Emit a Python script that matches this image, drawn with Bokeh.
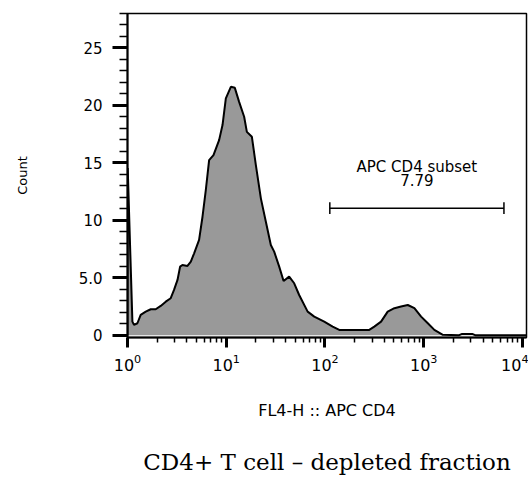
import numpy as np
from bokeh.plotting import figure
from bokeh.models import FixedTicker, Range1d, LogAxis
from bokeh.embed import file_html
from bokeh.resources import INLINE
from bokeh.core.properties import value

# ---- data ----
fl4 = [1.0, 1.005, 1.121, 1.164, 1.26, 1.36, 1.53, 1.72, 1.93, 2.17, 2.44, 2.74, 2.96,
       3.21, 3.41, 3.60, 4.05, 4.38, 4.73, 5.31, 5.75, 6.21, 6.71, 7.43, 8.47, 9.17,
       9.91, 11.14, 12.22, 13.51, 15.19, 16.18, 18.19, 19.96, 22.43, 25.2, 28.3, 30.6,
       34.4, 38.1, 43.4, 48.8, 54.8, 66.8, 77.9, 98.3, 119.7, 139.6, 281, 316, 370,
       432, 505, 590, 690, 805, 942, 1101, 1283, 1563, 2286, 2451, 3097, 3319, 11000]
count = [0.0, 14.55, 1.18, 0.90, 1.04, 1.77, 2.05, 2.26, 2.26, 2.55, 2.92, 3.22, 3.94,
         4.81, 5.97, 6.11, 6.03, 6.40, 7.13, 8.29, 10.31, 12.63, 15.24, 15.67, 16.98, 18.29,
         20.61, 21.62, 21.53, 20.31, 19.01, 17.70, 17.27, 14.81, 11.91, 9.88, 7.85, 7.27,
         5.97, 4.72, 5.10, 4.52, 3.50, 2.05, 1.62, 1.18, 0.75, 0.46, 0.46, 0.75, 1.18,
         2.05, 2.35, 2.49, 2.63, 2.35, 1.62, 1.04, 0.46, 0.03, 0.0, 0.11, 0.11, 0.0, 0.0]

x_major = [1, 10, 100, 1000, 10000]
y_major = [0, 5, 10, 15, 20, 25]
y_tick_labels = ["0", "5.0", "10", "15", "20", "25"]
y_minor = list(range(0, 29))

gate_lo, gate_hi, gate_y = 112, 6500, 11.06
gate_name = "APC CD4 subset"
gate_pct = "7.79"

x_label = "FL4-H :: APC CD4"
y_label = "Count"
title_text = "CD4+ T cell \u2013 depleted fraction"

# ---- figure ----
p = figure(width=528, height=488, x_axis_type="log",
           x_range=Range1d(1, 11000), y_range=Range1d(-0.2, 28),
           output_backend="svg", toolbar_location=None,
           min_border_left=127, min_border_right=2, min_border_top=13,
           min_border_bottom=151)
p.background_fill_color = "white"
p.border_fill_color = "white"
p.outline_line_color = "black"
p.outline_line_width = 1.5
p.xgrid.visible = False
p.ygrid.visible = False

p.varea(x=fl4, y1=0, y2=count, fill_color="#999999")
p.line(x=fl4, y=count, line_color="black", line_width=2)

# gate
cap = 0.52
p.segment(x0=[gate_lo], y0=[gate_y], x1=[gate_hi], y1=[gate_y],
          line_color="black", line_width=1.5)
p.segment(x0=[gate_lo, gate_hi], y0=[gate_y - cap] * 2,
          x1=[gate_lo, gate_hi], y1=[gate_y + cap] * 2,
          line_color="black", line_width=1.5)
gmid = float(np.sqrt(gate_lo * gate_hi))
p.text(x=[gmid, gmid], y=[gate_y + 3.57, gate_y + 2.44], text=[gate_name, gate_pct],
       text_align="center", text_baseline="middle",
       text_font=value("DejaVu Sans"), text_font_size="15px", text_color="black")

# axes
minor_x = [k * 10 ** n for n in range(4) for k in range(2, 10)]
xa = p.xaxis[0]
xa.ticker = FixedTicker(ticks=x_major, minor_ticks=minor_x)
xa.axis_line_color = "black"
xa.axis_line_width = 2
xa.major_tick_in = 0
xa.major_tick_out = 10
xa.minor_tick_in = 0
xa.minor_tick_out = 5
xa.major_tick_line_width = 3
xa.minor_tick_line_width = 1.5
xa.major_tick_line_color = "black"
xa.minor_tick_line_color = "black"
xa.major_label_text_font = "DejaVu Sans"
xa.major_label_text_font_size = "16px"
xa.major_label_text_color = "black"
xa.major_label_standoff = 6
xa.axis_label = x_label
xa.axis_label_text_font = "DejaVu Sans"
xa.axis_label_text_font_size = "16px"
xa.axis_label_text_font_style = "normal"
xa.axis_label_text_color = "black"
xa.axis_label_standoff = 27

ya = p.yaxis[0]
ya.ticker = FixedTicker(ticks=y_major, minor_ticks=y_minor)
ya.major_label_overrides = {v: s for v, s in zip(y_major, y_tick_labels)}
ya.axis_line_color = "black"
ya.axis_line_width = 2
ya.major_tick_in = 0
ya.major_tick_out = 15
ya.minor_tick_in = 0
ya.minor_tick_out = 8
ya.major_tick_line_width = 3
ya.minor_tick_line_width = 1.5
ya.major_tick_line_color = "black"
ya.minor_tick_line_color = "black"
ya.major_label_text_font = "DejaVu Sans"
ya.major_label_text_font_size = "15px"
ya.major_label_text_color = "black"
ya.major_label_standoff = 10
ya.axis_label = y_label
ya.axis_label_text_font = "DejaVu Sans"
ya.axis_label_text_font_size = "13px"
ya.axis_label_text_font_style = "normal"
ya.axis_label_text_color = "black"
ya.axis_label_standoff = 46

# chart title drawn as the label of a tick-less axis below the x axis
title_axis = LogAxis(ticker=FixedTicker(ticks=[]), axis_line_color=None,
                     major_tick_line_color=None, minor_tick_line_color=None,
                     major_tick_out=0, minor_tick_out=0, major_label_standoff=0,
                     axis_label=title_text, axis_label_standoff=26,
                     axis_label_text_font="DejaVu Serif",
                     axis_label_text_font_size="23px",
                     axis_label_text_font_style="normal",
                     axis_label_text_color="black")
p.add_layout(title_axis, "below")

open("out.html", "w").write(file_html(p, INLINE))
